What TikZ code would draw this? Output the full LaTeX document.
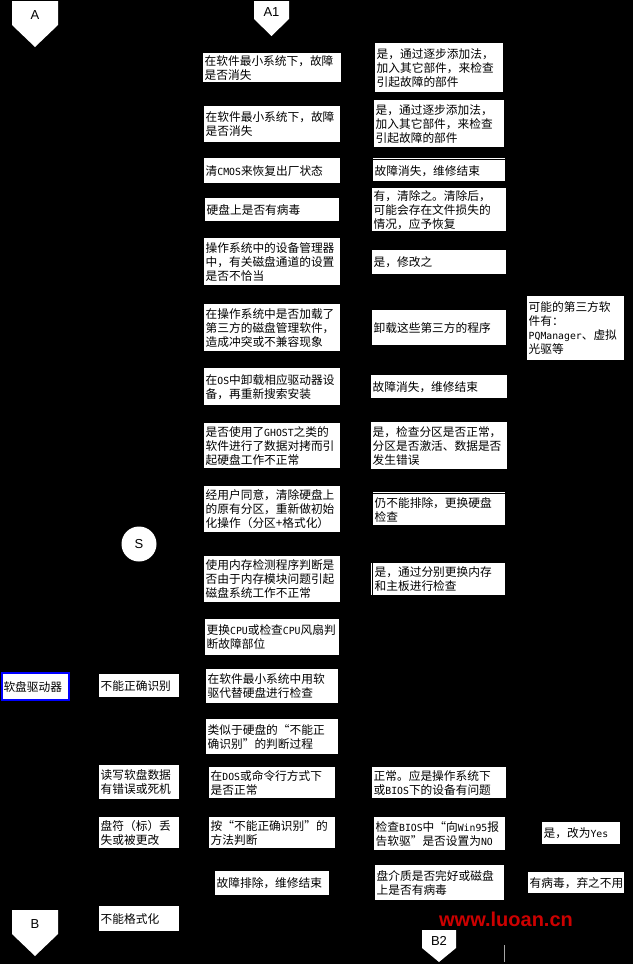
\documentclass[tikz,border=0pt]{standalone}
\usepackage{fontspec}
\newfontfamily\cjk{Noto Sans CJK SC}
\newfontfamily\lab{Liberation Sans}
\newfontfamily\mono{DejaVu Sans Mono}
\newcommand\m[1]{{\mono\fontsize{9.8}{14}\selectfont #1}}
\tikzset{
  box/.style={fill=white, inner xsep=1.5pt, inner ysep=0pt, align=left, anchor=north west,
    font=\cjk\fontsize{11.7}{14}\selectfont, text=black},
  lab/.style={font=\lab\fontsize{13}{13}\selectfont, text=black, inner sep=0pt},
  pentfill/.style={fill=white},
  wmark/.style={font=\lab\bfseries\fontsize{20}{20}\selectfont, text=red!80!black, inner sep=0pt},
  faint/.style={draw=gray!70, line width=1pt},
  rule/.style={fill=white},
}
\newcommand\bx[6]{\pgfmathsetmacro\tw{#4-3}\node[box, minimum width=#4pt, minimum height=#5pt, text width=\tw pt] (#1) at (#2,#3) {#6};}
\newcommand\pent[7]{\fill[pentfill] (#2,#4) -- (#3,#4) -- (#3,#5) -- ({(#2+#3)/2},#6) -- (#2,#5) -- cycle;
  \node[lab] (#1) at ({(#2+#3)/2},{(#4+#5)/2+2}) {#7};}
\begin{document}
\begin{tikzpicture}[x=1pt,y=-1pt]
\useasboundingbox[fill=black] (0,0) rectangle (633,964);
% off-page connectors
\pent{A}{12}{58}{1}{25}{47}{A}
\pent{A1}{254}{289}{1}{19}{36}{A1}
\pent{B}{12}{58}{910}{934}{956}{B}
\pent{B2}{422}{456}{930}{948}{962}{B2}
% start circle
\node[circle, fill=white, minimum size=35pt, inner sep=0pt, lab] (S) at (139,544) {S};
% main column
\bx{l1}{203}{53}{138}{29}{在软件最小系统下，故障\\是否消失}
\bx{r1}{375}{43}{128}{49}{是，通过逐步添加法，\\加入其它部件，来检查\\引起故障的部件}
\bx{l2}{204}{106}{136}{36}{在软件最小系统下，故障\\是否消失}
\bx{r2}{374}{100}{130}{47}{是，通过逐步添加法，\\加入其它部件，来检查\\引起故障的部件}
\bx{l3}{204}{158}{136}{25}{清\m{CMOS}来恢复出厂状态}
\fill[rule] (373,157.5) rectangle (505,158.5);
\bx{r3}{373}{160}{132}{21}{故障消失，维修结束}
\bx{l4}{205}{198}{134}{23}{硬盘上是否有病毒}
\bx{r4}{372}{188}{134}{43}{有，清除之。清除后，\\可能会存在文件损失的\\情况，应予恢复}
\bx{l5}{204}{238}{136}{47}{操作系统中的设备管理器\\中，有关磁盘通道的设置\\是否不恰当}
\bx{r5}{372}{250}{134}{24}{是，修改之}
\bx{l6}{204}{304}{136}{47}{在操作系统中是否加载了\\第三方的磁盘管理软件，\\造成冲突或不兼容现象}
\bx{r6}{372}{310}{134}{35}{卸载这些第三方的程序}
\bx{x6}{527}{296}{97}{64}{可能的第三方软\\件有：\\\m{PQManager}、虚拟\\光驱等}
\bx{l7}{204}{368}{136}{37}{在\m{OS}中卸载相应驱动器设\\备，再重新搜索安装}
\bx{r7}{371}{375}{136}{23}{故障消失，维修结束}
\bx{l8}{204}{423}{136}{45}{是否使用了\m{GHOST}之类的\\软件进行了数据对拷而引\\起硬盘工作不正常}
\bx{r8}{371}{422}{136}{47}{是，检查分区是否正常，\\分区是否激活、数据是否\\发生错误}
\bx{l9}{204}{486}{136}{46}{经用户同意，清除硬盘上\\的原有分区，重新做初始\\化操作（分区+格式化）}
\fill[rule] (373,491.5) rectangle (505,492.5);
\bx{r9}{373}{494}{132}{31}{仍不能排除，更换硬盘\\检查}
\bx{l10}{204}{556}{136}{46}{使用内存检测程序判断是\\否由于内存模块问题引起\\磁盘系统工作不正常}
\fill[rule] (370.5,563) rectangle (371.5,595);
\bx{r10}{373}{563}{132}{32}{是，通过分别更换内存\\和主板进行检查}
\bx{l11}{205}{619}{134}{36}{更换\m{CPU}或检查\m{CPU}风扇判\\断故障部位}
% floppy section
\node[box, draw=blue, line width=2pt, minimum width=67pt, minimum height=27pt, text width=64pt] (fd) at (1,672) {软盘驱动器};
\bx{n1}{99}{674}{80}{23}{不能正确识别}
\bx{l12}{206}{669}{132}{34}{在软件最小系统中用软\\驱代替硬盘进行检查}
\bx{l13}{206}{719}{132}{35}{类似于硬盘的“不能正\\确识别”的判断过程}
\bx{n2}{99}{765}{80}{34}{读写软盘数据\\有错误或死机}
\bx{l14}{209}{767}{126}{31}{在\m{DOS}或命令行方式下\\是否正常}
\bx{r14}{372}{767}{134}{31}{正常。应是操作系统下\\或\m{BIOS}下的设备有问题}
\bx{n3}{99}{817}{80}{31}{盘符（标）丢\\失或被更改}
\bx{l15}{209}{817}{126}{31}{按“不能正确识别”的\\方法判断}
\bx{r15}{374}{817}{131}{33}{检查\m{BIOS}中“向\m{Win95}报\\告软驱”是否设置为\m{NO}}
\bx{y15}{542}{822}{78}{22}{是，改为\m{Yes}}
\bx{l16}{215}{871}{114}{24}{故障排除，维修结束}
\bx{r16}{375}{865}{129}{35}{盘介质是否完好或磁盘\\上是否有病毒}
\bx{v16}{528}{872}{96}{21}{有病毒，弃之不用}
\bx{n4}{99}{906}{80}{25}{不能格式化}
% faint connector fragment
\coordinate (g1) at (504,945);
\coordinate (g2) at (504,962);
\draw[faint] (g1) -- (g2);
% watermark
\node[wmark] (wm) at (506,919) {www.luoan.cn};
\end{tikzpicture}
\end{document}
